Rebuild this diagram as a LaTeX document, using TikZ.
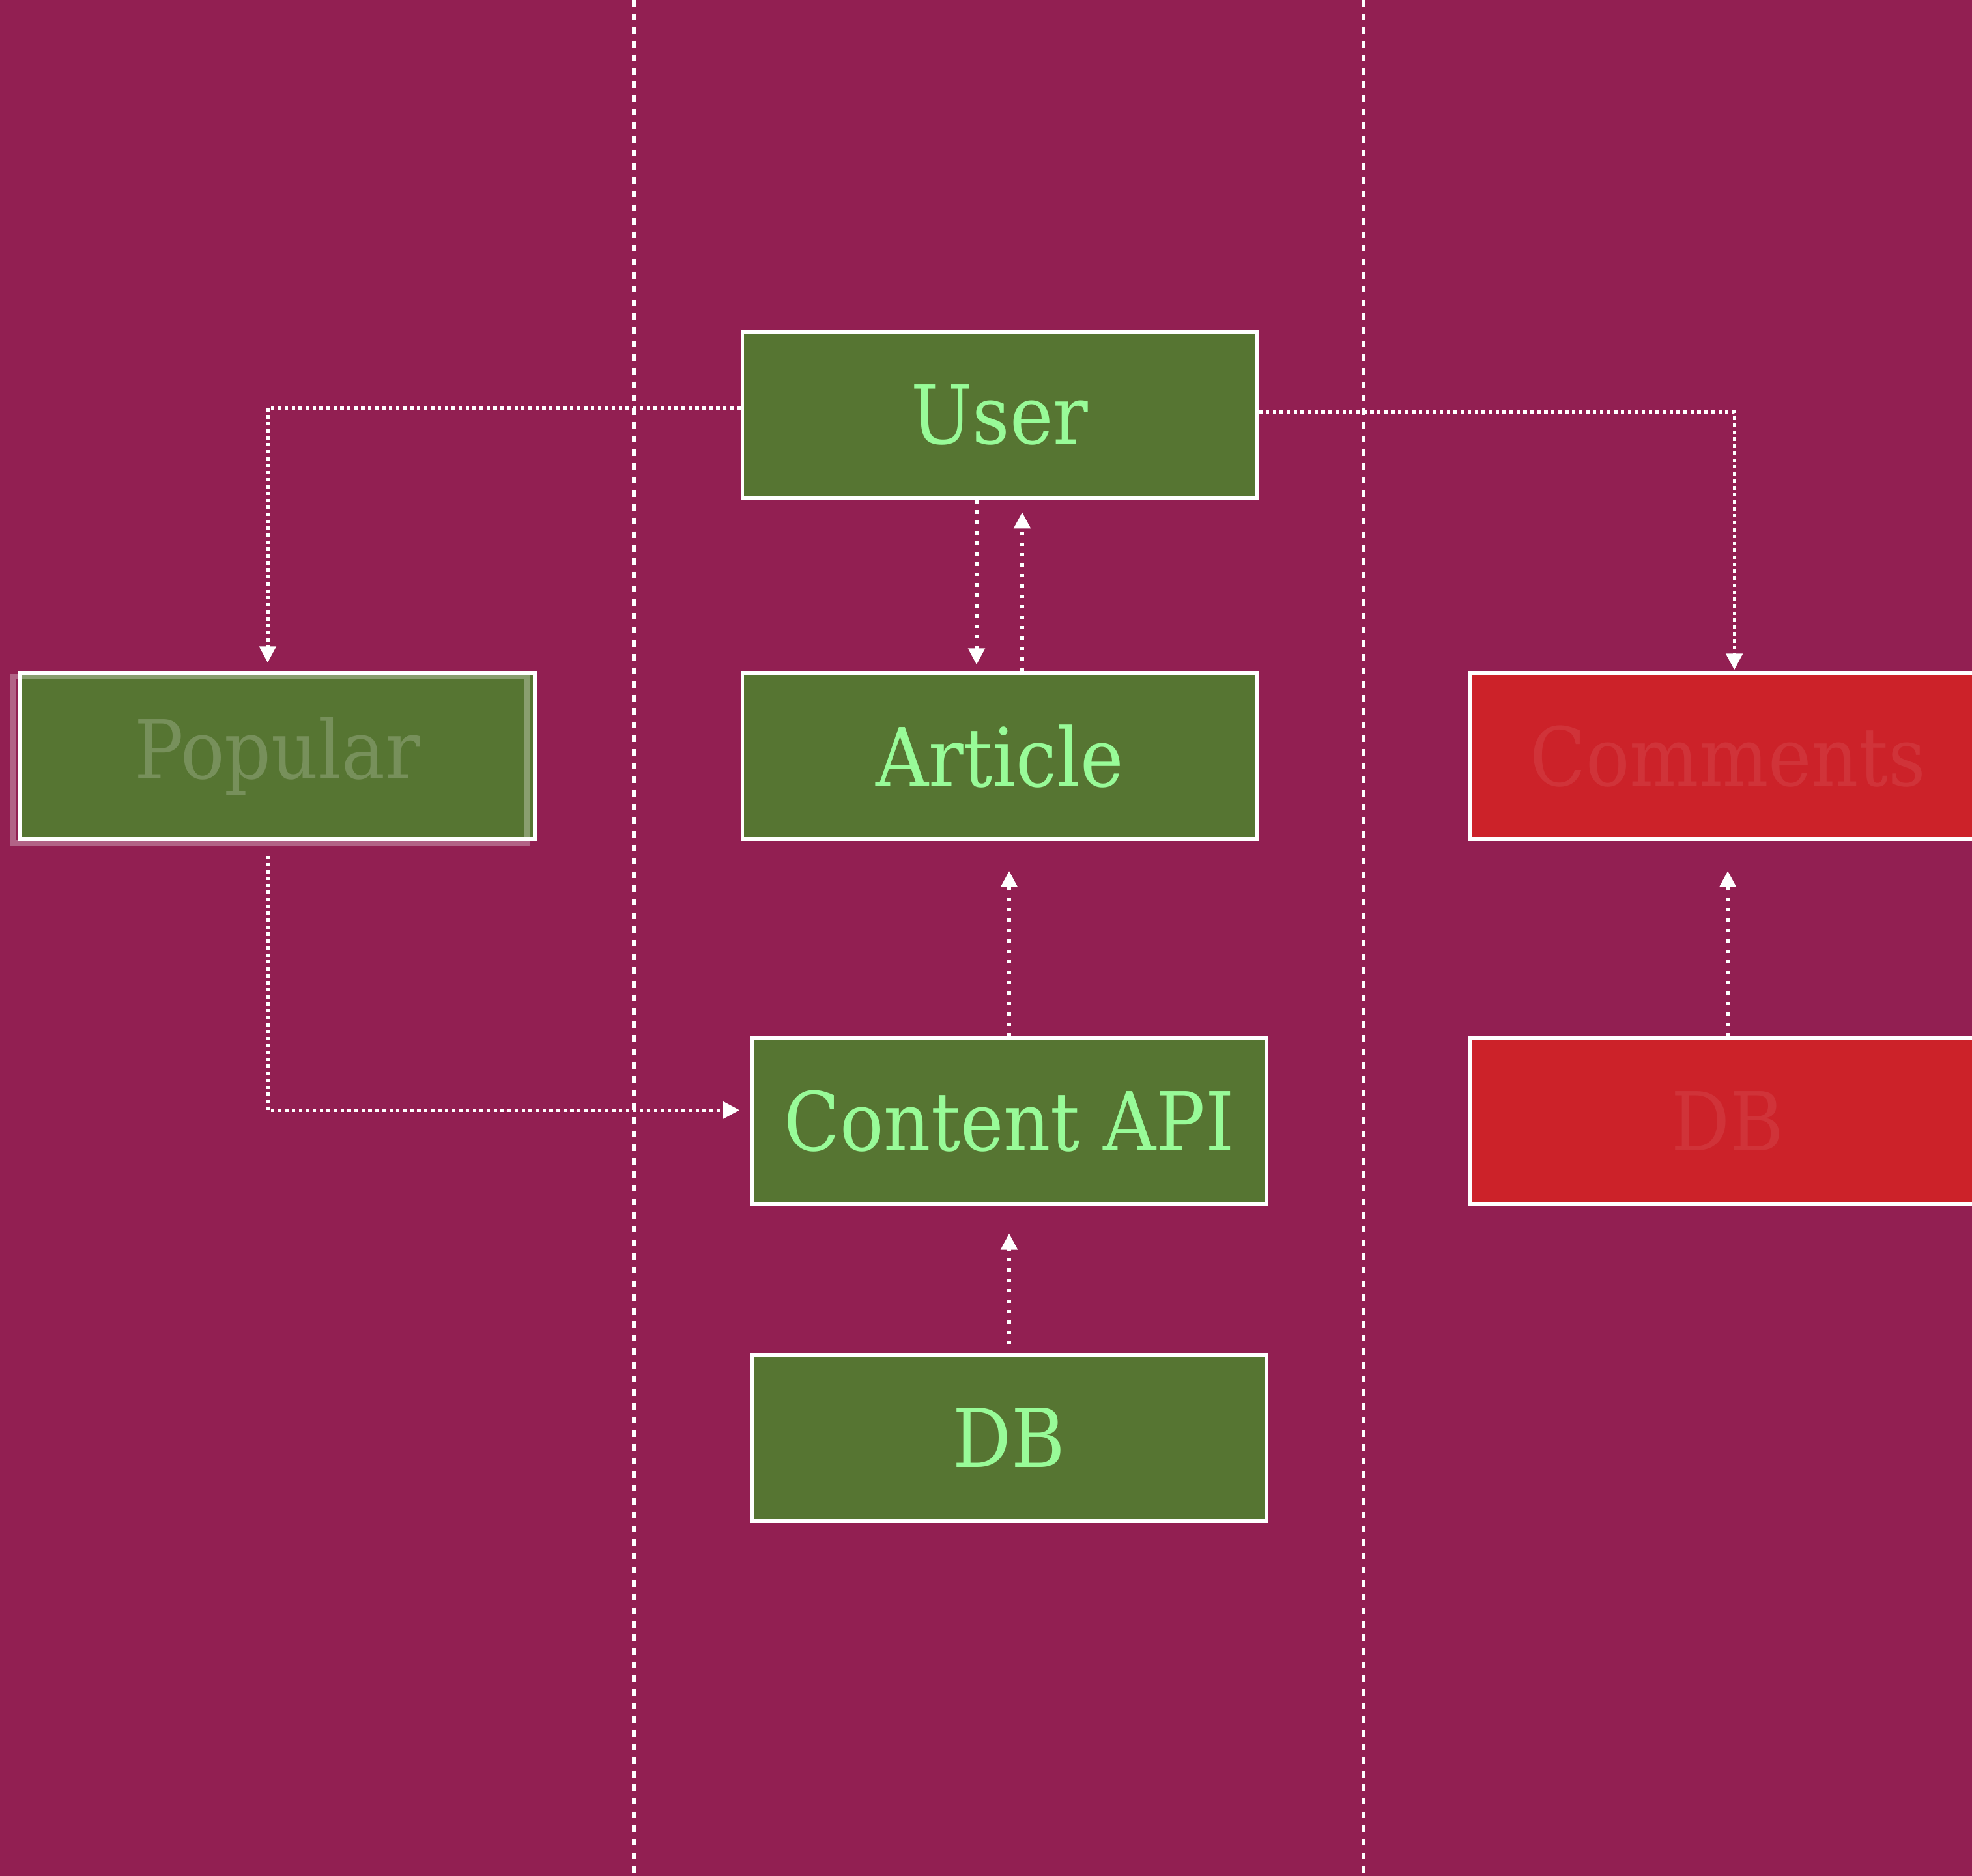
\documentclass[tikz,border=0pt]{standalone}
\usepackage{fontspec}
\newfontfamily\boxfont{DejaVu Serif Condensed}
\usetikzlibrary{arrows.meta, positioning}
\definecolor{plum}{RGB}{146,31,82}
\definecolor{moss}{RGB}{86,117,50}
\definecolor{leaf}{RGB}{152,251,152}
\definecolor{brick}{RGB}{204,34,41}

\begin{document}
\begin{tikzpicture}[
        box/.style={rectangle, draw=white, line width=1.6pt, fill=moss, text=leaf, minimum width=7.9cm, minimum height=2.55cm, align=center, font=\boxfont\fontsize{35.5}{43}\selectfont},
        faded/.style={box, text=white, text opacity=.2},
        gone/.style={box, fill=brick, text=white, text opacity=.08},
        ghostbox/.style={rectangle, draw=white, draw opacity=.3, line width=2.6pt, minimum width=7.9cm, minimum height=2.55cm},
        link/.style={white, line width=1.5pt, dash pattern=on 1.5pt off 1.54pt, -{Triangle[length=0.25cm, width=0.25cm]}},
        flow/.style={link, dash pattern=on 1.5pt off 3.05pt},
        lane/.style={white, line width=1.6pt, dash pattern=on 2.85pt off 3.1pt}
    ]
        \clip (0,0) rectangle (30.27,-28.80);
        \fill[plum] (0,0) rectangle (30.27,-28.80);

        % lanes
        \draw[lane] (9.73,0) -- (9.73,-28.80);
        \draw[lane] (20.93,0) -- (20.93,-28.80);

        \node[box] (user) at (15.345,-6.37) {User};
        \node[box, below=2.63cm of user] (article) {Article};
        \node[box, below=3.0cm of article, xshift=0.145cm] (content) {Content API};
        \node[box, below=2.255cm of content] (db) {DB};
        \node[faded, left=3.13cm of article] (popular) {Popular};
        \node[ghostbox] (popularghost) at ([xshift=-0.11cm, yshift=-0.05cm]popular.center) {};
        \node[gone, right=3.22cm of article] (comments) {Comments};
        \node[gone, below=3.0cm of comments] (commentsdb) {DB};

        \draw[link, shorten >=0.13cm] ([yshift=0.11cm]user.west) -| ([xshift=-0.15cm]popular.north);
        \draw[link, shorten >=0.02cm] ([yshift=0.05cm]user.east) -| ([xshift=0.1cm]comments.north);
        \draw[flow, shorten >=0.1cm] ([xshift=-0.355cm]user.south) -- ([xshift=-0.355cm]article.north);
        \draw[flow, shorten >=0.19cm] ([xshift=0.345cm]article.north) -- ([xshift=0.345cm]user.south);
        \draw[flow, shorten >=0.46cm] (content.north) -- (content.north |- article.south);
        \draw[flow, shorten <=0.13cm, shorten >=0.42cm] (db.north) -- (content.south);
        \draw[link, shorten <=0.23cm, shorten >=0.16cm] ([xshift=-0.15cm]popular.south) |- ([yshift=0.17cm]content.west);
        \draw[flow, shorten >=0.46cm] (commentsdb.north) -- (comments.south);
    \end{tikzpicture}
\end{document}
